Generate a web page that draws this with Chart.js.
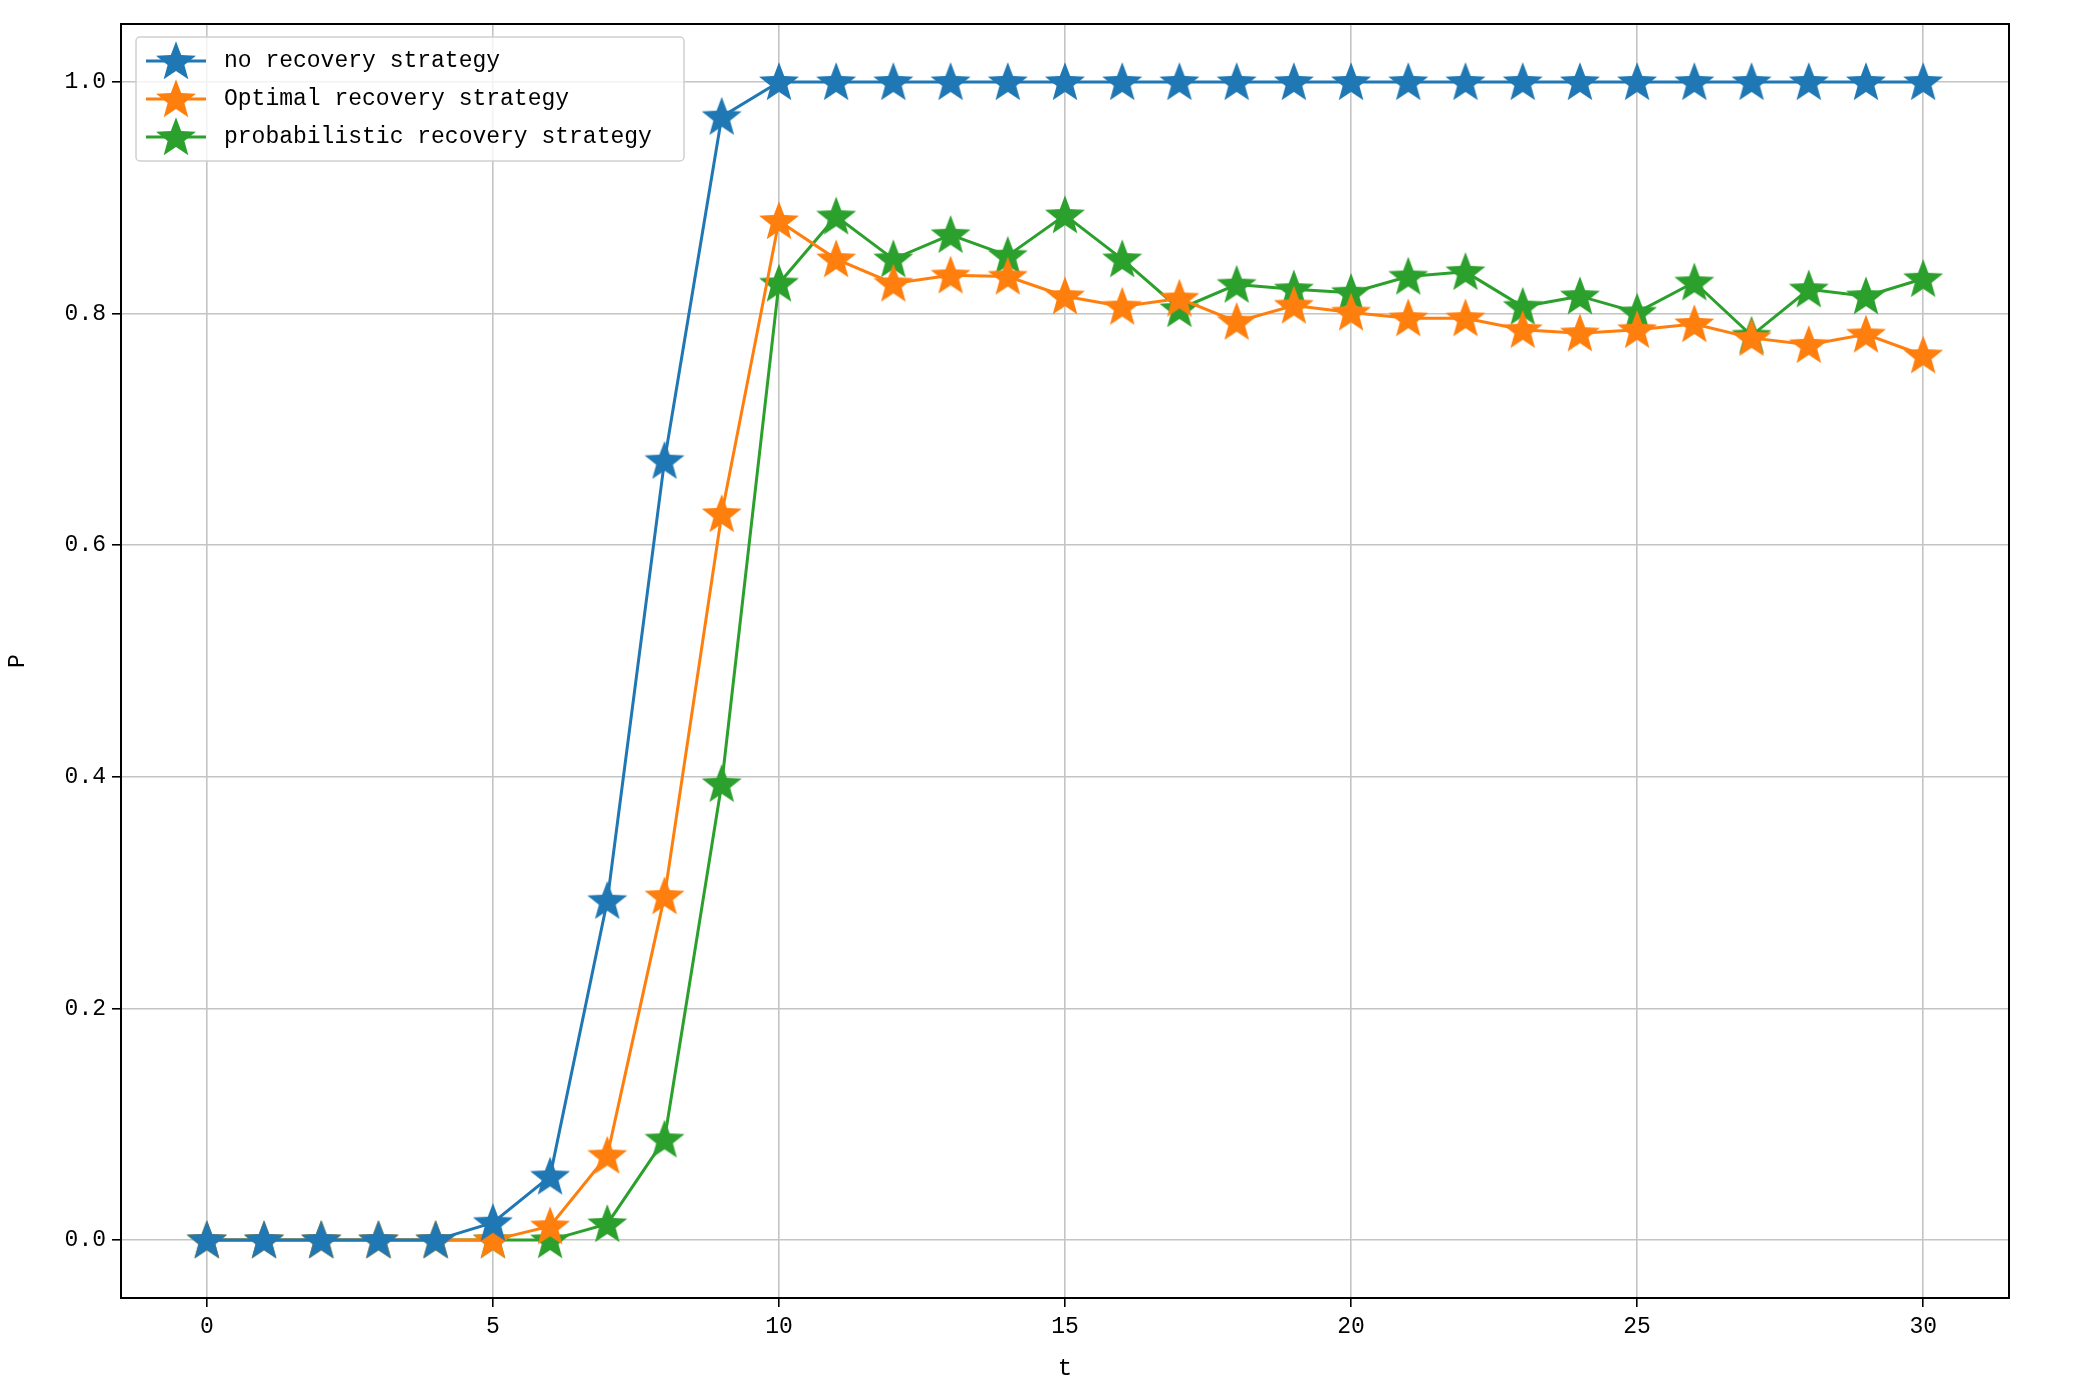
<!DOCTYPE html>
<html><head><meta charset="utf-8">
<script src="https://cdn.jsdelivr.net/npm/chart.js@4"></script>
<style>html,body{margin:0;padding:0;background:#fff}</style>
</head><body>
<canvas id="c" width="2073" height="1397"></canvas>
<script>
const tValues = Array.from({length:31},(_,i)=>i);
const seriesNames = ['no recovery strategy','Optimal recovery strategy','probabilistic recovery strategy'];
const noRecovery = [0,0,0,0,0,0.015,0.055,0.293,0.673,0.970,1,1,1,1,1,1,1,1,1,1,1,1,1,1,1,1,1,1,1,1,1];
const optimalRecovery = [0,0,0,0,0,0,0.012,0.073,0.297,0.627,0.880,0.847,0.826,0.833,0.832,0.815,0.806,0.813,0.793,0.807,0.801,0.796,0.796,0.786,0.783,0.786,0.791,0.779,0.773,0.782,0.764];
const probabilisticRecovery = [0,0,0,0,0,0,0,0.014,0.087,0.394,0.826,0.884,0.847,0.868,0.850,0.885,0.847,0.804,0.825,0.821,0.818,0.832,0.836,0.806,0.815,0.801,0.827,0.781,0.821,0.815,0.830];
const xTicks = [0,5,10,15,20,25,30];
const yTicks = [0,0.2,0.4,0.6,0.8,1.0];
const colors = ['#1f77b4','#ff7f0e','#2ca02c'];
const FONT = '"Liberation Mono", monospace';

function star(color, R){
  const c=document.createElement('canvas'); const s=Math.ceil(R*2+4); c.width=s;c.height=s;
  const g=c.getContext('2d'); g.beginPath();
  for(let i=0;i<10;i++){const r=i%2?R*0.42:R; const a=-Math.PI/2+i*Math.PI/5;
    const x=s/2+r*Math.cos(a), y=s/2+r*Math.sin(a)+R*0.06; i?g.lineTo(x,y):g.moveTo(x,y);}
  g.closePath(); g.fillStyle=color; g.fill(); return c;
}
const stars = colors.map(c=>star(c,21));
const series=[noRecovery,optimalRecovery,probabilisticRecovery];
const datasets = series.map((d,k)=>({label:seriesNames[k],data:d.map((v,i)=>({x:tValues[i],y:v})),
  borderColor:colors[k],backgroundColor:colors[k],borderWidth:3,pointStyle:stars[k],pointRadius:20,tension:0}));

const legendPlugin={id:'lg',afterDraw(ch){
  const g=ch.ctx; const x0=ch.chartArea.left+15,y0=ch.chartArea.top+13,w=548,h=124;
  g.save(); g.fillStyle='rgba(255,255,255,0.8)'; g.strokeStyle='#d0d0d0'; g.lineWidth=1.5;
  g.beginPath(); g.roundRect(x0,y0,w,h,4); g.fill(); g.stroke();
  g.font='23px '+FONT; g.textBaseline='middle';
  seriesNames.forEach((n,k)=>{const y=y0+24+k*38;
    g.strokeStyle=colors[k]; g.lineWidth=3; g.beginPath(); g.moveTo(x0+10,y); g.lineTo(x0+70,y); g.stroke();
    g.drawImage(stars[k],x0+40-stars[k].width/2,y-stars[k].height/2);
    g.fillStyle='#000'; g.fillText(n,x0+88,y);});
  g.restore();
}};
const frame={id:'fr',afterDraw(ch){const a=ch.chartArea,g=ch.ctx;g.save();g.strokeStyle='#000';g.lineWidth=2;g.strokeRect(a.left,a.top,a.right-a.left,a.bottom-a.top);g.restore();}};

new Chart(document.getElementById('c'),{type:'line',data:{datasets},
 options:{responsive:false,animation:false,layout:{padding:{top:24,right:64}},
  plugins:{legend:{display:false},tooltip:{enabled:false}},
  scales:{
   x:{type:'linear',min:-1.5,max:31.5,afterBuildTicks(s){s.ticks=xTicks.map(v=>({value:v}));},
      afterFit(s){s.height=99;},
      grid:{color:'#c4c4c4',lineWidth:1.6,tickLength:9,tickColor:'#000',drawTicks:true},border:{display:false},
      ticks:{color:'#000',font:{family:FONT,size:23},padding:6,maxRotation:0},
      title:{display:true,text:'t',color:'#000',font:{family:FONT,size:24},padding:{top:0,bottom:14}}},
   y:{min:-0.05,max:1.05,afterBuildTicks(s){s.ticks=yTicks.map(v=>({value:v}));},
      afterFit(s){s.width=121;},
      grid:{color:'#c4c4c4',lineWidth:1.6,tickLength:9,tickColor:'#000'},border:{display:false},
      ticks:{color:'#000',font:{family:FONT,size:23},padding:6,callback:v=>v.toFixed(1)},
      title:{display:true,text:'P',color:'#000',font:{family:FONT,size:23},padding:{bottom:12}}}
  }},plugins:[legendPlugin,frame]});
</script>
</body></html>
